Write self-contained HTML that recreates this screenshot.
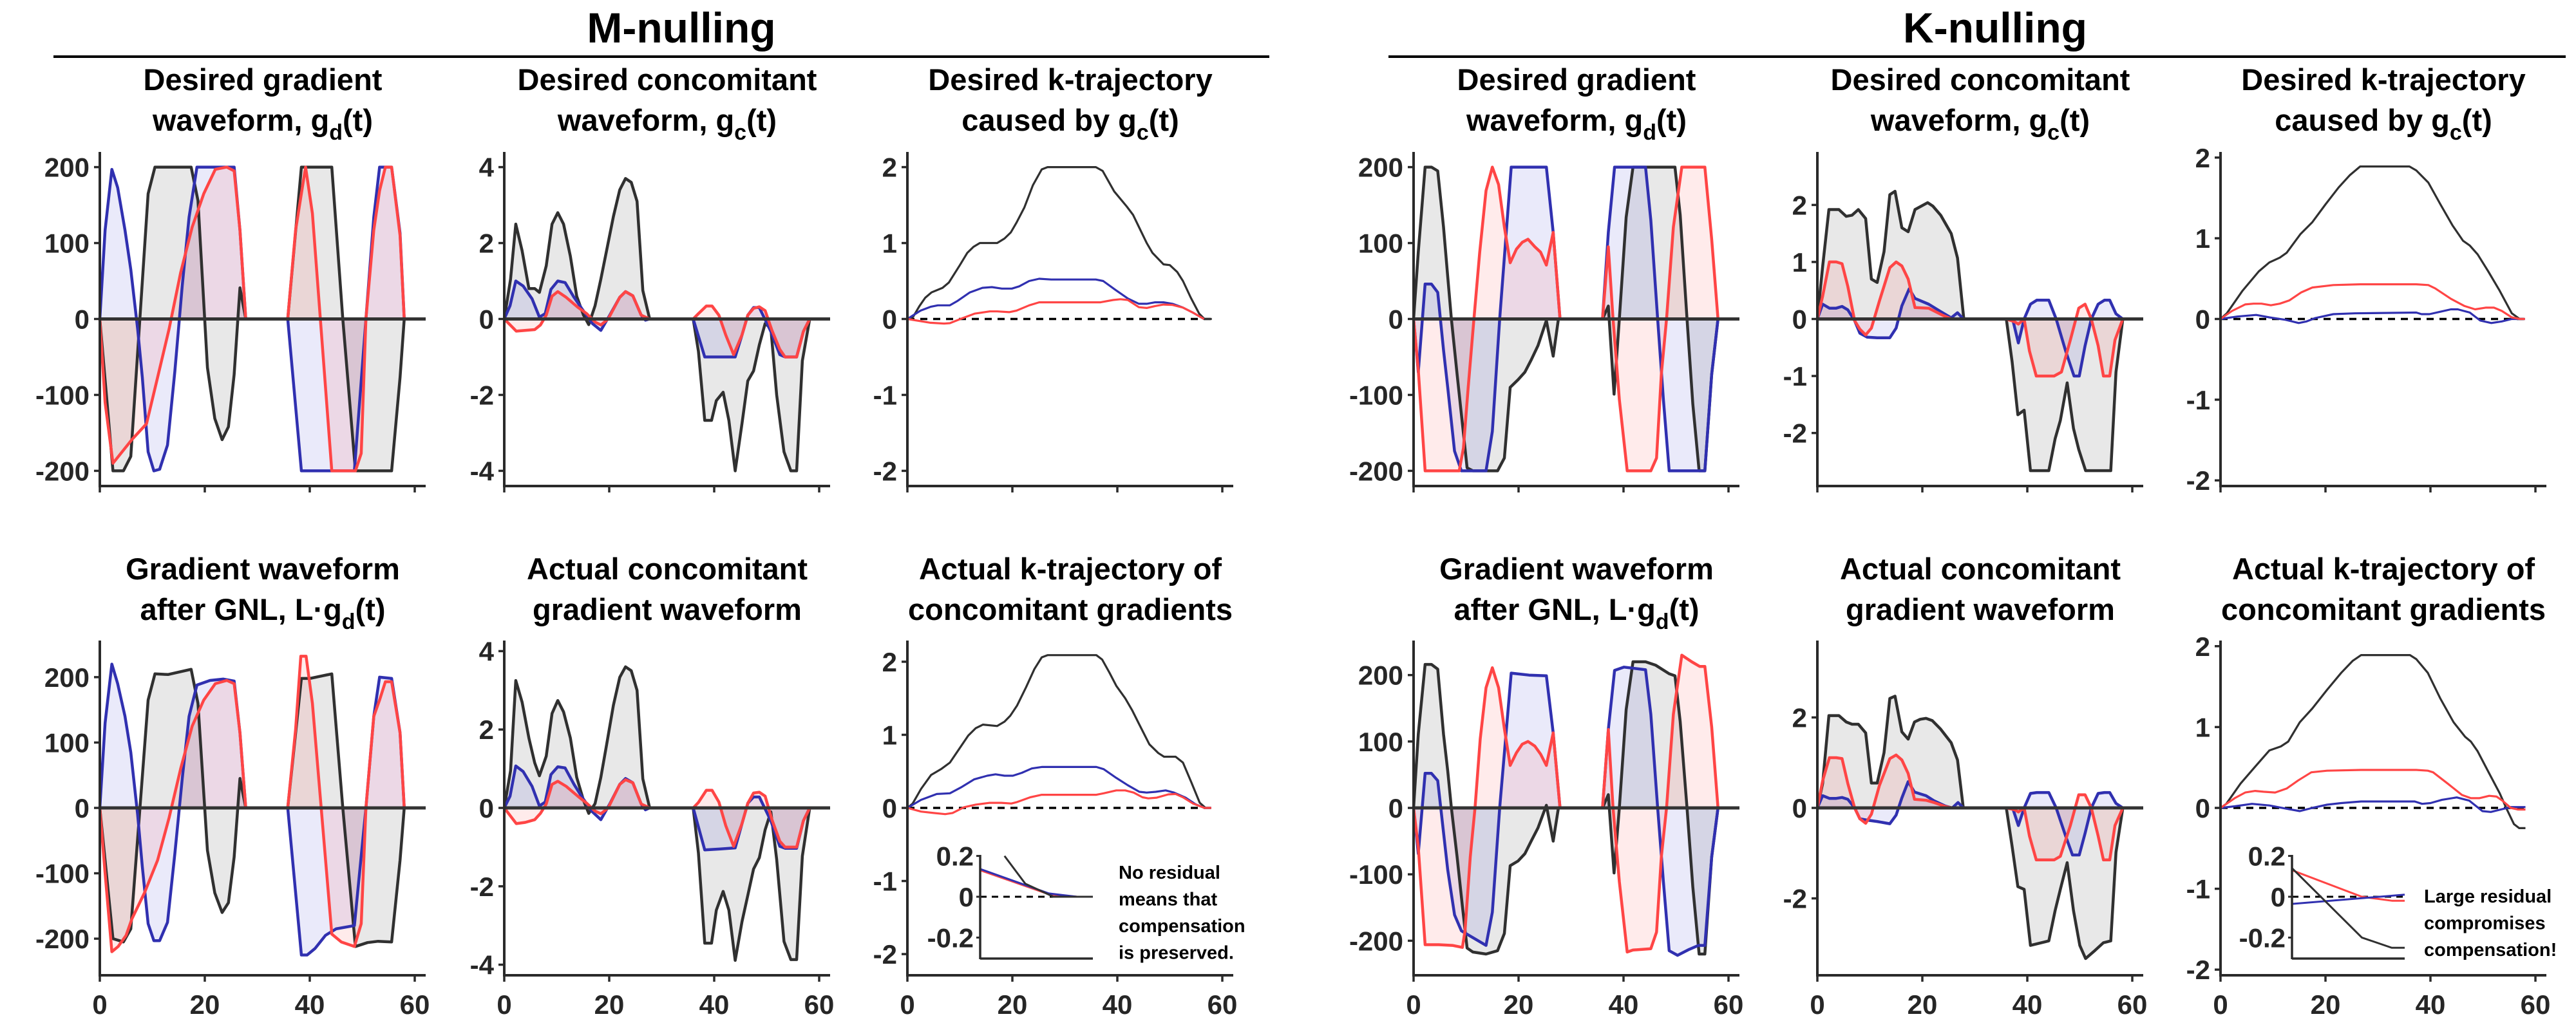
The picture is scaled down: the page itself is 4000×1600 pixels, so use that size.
<!DOCTYPE html>
<html><head><meta charset="utf-8">
<style>
html,body{margin:0;padding:0;background:#fff;}
svg{display:block;font-family:"Liberation Sans",Arial,sans-serif;}
.tl{font-weight:bold;font-size:42px;fill:#262626;}
.tt{font-weight:bold;font-size:47px;fill:#000;}
.big{font-weight:bold;font-size:66px;fill:#000;}
.note{font-weight:bold;font-size:29px;fill:#000;}
</style></head>
<body>
<svg id="fig" width="4000" height="1600" viewBox="0 0 4000 1600" xmlns="http://www.w3.org/2000/svg">
<text class="big" x="1058" y="66" text-anchor="middle">M-nulling</text>
<line x1="83" y1="88" x2="1971" y2="88" stroke="#000" stroke-width="4"/>
<text class="big" x="3098" y="66" text-anchor="middle">K-nulling</text>
<line x1="2156" y1="88" x2="3984" y2="88" stroke="#000" stroke-width="4"/>
</svg>
<script>
// ---------- data: [time (ms), value] ----------
const mGdBlack=[[0,0],[2.5,-200],[4.5,-200],[5.9,-181],[9.2,165],[10.5,200],[17.4,200],[18.7,156],[20.5,-64],[21.9,-131],[23.3,-159],[24.5,-142],[25.6,-73],[26.7,41],[27.8,0],[35.8,0],[38.4,200],[44.2,200],[46.3,0],[48.7,-200],[55.6,-200],[57.2,-77],[58,0]];
const mGdBlue=[[0,0],[1,117],[2.3,197],[3.4,173],[4.8,117],[5.9,65],[7.2,-13],[8.1,-77],[9.2,-175],[10.3,-200],[11.4,-198],[12.9,-166],[14.3,-69],[15.7,44],[17,134],[18.5,200],[25.6,200],[26.7,117],[27.8,0],[35.8,0],[38.4,-200],[48.5,-200],[50.7,0],[52.2,134],[53.3,200],[55.6,200],[57.2,113],[58,0]];
const mGdRed=[[0,0],[1,-110],[2.5,-190],[6.1,-159],[8.9,-138],[11,-77],[13.2,-13],[15.4,61],[17.6,121],[19.8,165],[22,197],[24.2,200],[25.6,195],[26.7,117],[27.8,0],[35.8,0],[37.3,117],[39.2,200],[40.5,139],[44.2,-200],[48.7,-200],[49.8,-177],[50.7,0],[52.2,117],[53.3,169],[54.4,200],[55.6,200],[57.2,110],[58,0]];

const mGcBlack=[[0,0],[1.2,1.05],[2.2,2.5],[3.4,1.8],[4.7,0.8],[5.8,0.8],[6.7,0.7],[8,1.4],[9.1,2.5],[10.2,2.8],[11.3,2.5],[12.6,1.65],[13.8,0.6],[15.1,0.1],[16.1,-0.15],[17.3,0.35],[18.4,1.05],[19.5,1.8],[20.8,2.7],[22,3.4],[23.1,3.7],[24.2,3.6],[25.3,3.1],[26.4,0.75],[27.7,0],[36,0],[37,-0.85],[38.2,-2.67],[39.5,-2.67],[40.4,-2.15],[41.7,-1.93],[42.8,-2.67],[44,-4],[45.3,-2.75],[46.4,-1.63],[47.5,-1.37],[48.6,-0.68],[49.7,-0.12],[50.8,-0.25],[51.9,-2],[53.3,-3.5],[54.6,-4],[55.7,-4],[56.8,-1.1],[58.2,0]];
const mGcBlue=[[0,0],[1.1,0.35],[2.2,1],[3.6,0.87],[5.3,0.53],[6.7,0.05],[7.8,0.14],[8.9,0.78],[10.2,1],[11.6,0.96],[13.3,0.57],[14.8,0.27],[16.8,-0.12],[18.4,-0.3],[20.1,0.1],[22,0.57],[23.1,0.72],[24.5,0.61],[26.1,0.1],[26.9,-0.03],[27.7,0],[36,0],[38.2,-1],[44,-1],[45.3,-0.42],[46.4,0.1],[47.5,0.3],[48.6,0.3],[50.8,-0.33],[52.5,-0.94],[53.5,-1],[55.7,-1],[57,-0.33],[58.2,0]];
const mGcRed=[[0,0],[2.3,-0.32],[5.8,-0.28],[6.9,-0.16],[8,0.1],[9.1,0.6],[10.2,0.72],[11.8,0.57],[14,0.31],[15.7,0.14],[17.3,-0.08],[18.4,-0.16],[19.8,0],[22,0.57],[23.1,0.72],[24.5,0.61],[26.1,0.1],[27.7,0],[36,0],[37,0.14],[38.5,0.34],[39.6,0.34],[40.9,0.1],[42.2,-0.42],[43.7,-0.94],[45.3,-0.42],[46.4,0.1],[47.5,0.28],[48.6,0.32],[49.7,0.22],[51,-0.3],[52.5,-0.8],[53.5,-1],[55.7,-1],[57,-0.33],[58.2,0]];

const mKBlack=[[0,0],[1.1,0.03],[2.3,0.17],[3.4,0.28],[4.6,0.35],[6.7,0.41],[7.9,0.48],[10,0.71],[11.4,0.87],[12.6,0.95],[13.8,1.0],[17.1,1.0],[18.5,1.06],[19.7,1.14],[20.8,1.27],[22.3,1.47],[23.9,1.76],[25.6,1.97],[26.7,2.0],[35.9,2.0],[37.2,1.95],[39.4,1.68],[41.8,1.48],[43,1.37],[44.4,1.17],[45.6,1.0],[46.7,0.87],[48.8,0.72],[50,0.71],[51.4,0.62],[52.5,0.5],[54,0.28],[55.6,0.07],[56.6,0],[58,0]];
const mKBlue=[[0,0],[2.5,0.11],[4.4,0.16],[5.8,0.18],[8.1,0.18],[9.6,0.24],[11.9,0.35],[14.3,0.41],[16.1,0.42],[18,0.4],[19.9,0.4],[21.3,0.43],[23.2,0.5],[25.1,0.53],[27.4,0.52],[35.9,0.52],[37.3,0.5],[39.7,0.38],[42,0.27],[44.1,0.2],[45.6,0.2],[47.2,0.22],[48.8,0.22],[50.5,0.2],[52.5,0.15],[54.5,0.08],[56.5,0]];
const mKRed=[[0,0],[4.4,-0.05],[7,-0.06],[8.1,-0.055],[10.5,0.01],[12.8,0.07],[15.7,0.1],[17.1,0.1],[19.4,0.09],[20.8,0.11],[23.2,0.18],[25.1,0.22],[27.4,0.22],[36.8,0.22],[39.2,0.25],[40.6,0.26],[42,0.25],[44.1,0.155],[45.6,0.145],[47.2,0.17],[48.8,0.19],[50.5,0.185],[52.5,0.15],[54.5,0.08],[56.5,0]];

const mLgdBlack=[[0,0],[2.5,-200],[4.5,-205],[5.9,-185],[9.2,165],[10.5,205],[13,204],[17.4,212],[18.7,160],[20.5,-65],[21.9,-130],[23.3,-160],[24.5,-145],[25.6,-75],[26.7,45],[27.8,0],[35.8,0],[38.4,198],[40,198],[44.2,205],[46.3,0],[48.7,-212],[51,-206],[53,-204],[55.6,-205],[57.2,-80],[58,0]];
const mLgdBlue=[[0,0],[1,130],[2.3,220],[3.4,190],[4.8,140],[5.9,85],[7.2,-10],[8.1,-90],[9.2,-177],[10.3,-203],[11.4,-203],[12.9,-175],[14.3,-70],[15.7,45],[17,140],[18.5,188],[21,195],[23.5,197],[25.6,194],[26.7,115],[27.8,0],[35.8,0],[38.4,-225],[39.5,-225],[41,-215],[43,-195],[45,-185],[48.5,-180],[50.7,0],[52.2,140],[53.3,200],[55.6,198],[57.2,115],[58,0]];
const mLgdRed=[[0,0],[1,-100],[2.3,-220],[3.5,-212],[5,-195],[6.1,-170],[8.5,-130],[11,-80],[13.2,-15],[15.4,60],[17.6,125],[19.8,165],[22,190],[24.2,195],[25.6,190],[26.7,115],[27.8,0],[35.8,0],[37.3,120],[38.3,232],[39.3,232],[40.5,160],[44.2,-193],[46,-205],[48.5,-212],[49.8,-177],[50.7,0],[52.2,140],[53.3,165],[54.4,193],[55.6,193],[57.2,115],[58,0]];

const mAcBlack=[[0,0],[1.2,0.95],[2.2,3.25],[3.4,2.7],[4.7,1.78],[5.8,1.15],[6.7,0.82],[8,1.32],[9.1,2.41],[10.2,2.74],[11.3,2.45],[12.6,1.78],[13.8,0.78],[15.1,0.19],[16.1,-0.14],[17.3,0.11],[18.4,0.78],[19.5,1.61],[20.8,2.62],[22,3.33],[23.1,3.6],[24.2,3.5],[25.3,3.0],[26.4,0.74],[27.7,0],[36,0],[37,-1.15],[38.2,-3.45],[39.5,-3.45],[40.4,-2.61],[41.7,-2.13],[42.8,-2.61],[44,-3.89],[45.3,-2.9],[46.4,-2.23],[47.5,-1.56],[48.6,-1.27],[49.7,-0.56],[50.8,-0.1],[51.9,-1.31],[53.3,-3.41],[54.6,-3.87],[55.7,-3.87],[56.8,-1.23],[58.2,0]];
const mAcBlue=[[0,0],[1.1,0.3],[2.2,1.07],[3.6,0.93],[5.3,0.55],[6.7,0.05],[7.8,0.15],[8.9,0.85],[10.2,1.05],[11.6,1.02],[13.3,0.6],[14.8,0.28],[16.8,-0.1],[18.4,-0.3],[20.1,0.1],[22,0.6],[23.1,0.75],[24.5,0.64],[26.1,0.1],[26.9,-0.05],[27.7,0],[36,0],[38.2,-1.07],[41,-1.05],[44,-1.02],[45.3,-0.4],[46.4,0.12],[47.5,0.28],[48.6,0.28],[50.8,-0.33],[52.5,-0.98],[53.5,-1.03],[55.7,-1.03],[57,-0.33],[58.2,0]];
const mAcRed=[[0,0],[2.3,-0.4],[4,-0.37],[5.8,-0.3],[6.9,-0.14],[8,0.1],[9.1,0.6],[10.2,0.68],[11.8,0.55],[14,0.3],[15.7,0.12],[17.3,-0.08],[18.4,-0.15],[19.8,0],[22,0.6],[23.1,0.72],[24.5,0.64],[26.1,0.1],[27.7,0],[36,0],[37,0.14],[38.5,0.45],[39.6,0.45],[40.9,0.15],[42.2,-0.45],[43.7,-0.98],[45.3,-0.4],[46.4,0.12],[47.5,0.38],[48.6,0.4],[49.7,0.3],[51,-0.3],[52.5,-0.85],[53.5,-1],[55.7,-1],[57,-0.33],[58.2,0]];

const mAkBlack=[[0,0],[1,0.06],[2.6,0.26],[4.5,0.45],[6.4,0.53],[8.1,0.62],[9.7,0.79],[11.6,0.99],[13,1.09],[14.4,1.14],[17.1,1.12],[18.5,1.18],[19.6,1.26],[20.9,1.4],[22.6,1.65],[24.2,1.9],[25.6,2.06],[26.7,2.09],[36,2.09],[37.1,2.03],[38.5,1.85],[39.8,1.67],[41.5,1.5],[42.8,1.34],[44.2,1.14],[46.1,0.87],[47.8,0.75],[48.9,0.7],[51.1,0.7],[52.5,0.62],[54.1,0.35],[55.7,0.07],[56.8,0],[57.9,0]];
const mAkBlue=[[0,0],[2.6,0.11],[5.6,0.19],[8.1,0.2],[10.2,0.28],[12.7,0.39],[15.2,0.44],[16.8,0.46],[18.5,0.44],[20.1,0.44],[21.8,0.48],[23.7,0.54],[25.6,0.56],[36,0.56],[37.4,0.53],[39.8,0.41],[42,0.31],[44.2,0.22],[45.6,0.21],[47.3,0.22],[49.2,0.24],[50.8,0.21],[53,0.14],[54.9,0.05],[56.6,0],[57.9,0]];
const mAkRed=[[0,0],[2.6,-0.05],[5,-0.07],[7.2,-0.085],[8.6,-0.07],[10.8,0.01],[13,0.045],[15.7,0.07],[17.9,0.07],[19.8,0.06],[20.9,0.08],[23.4,0.145],[25.6,0.18],[36,0.18],[37.4,0.2],[39.8,0.24],[41.5,0.24],[43.1,0.21],[44.8,0.145],[45.9,0.13],[47.5,0.14],[49.7,0.185],[51.1,0.19],[52.5,0.145],[54.4,0.06],[56.6,0],[57.9,0]];

const kGdBlack=[[0,0],[0.9,88],[2.2,200],[3.4,200],[4.6,195],[5.7,121],[6.5,56],[7.2,0],[8.3,-73],[9.3,-138],[10.2,-196],[11.3,-200],[16,-200],[17.3,-183],[18.4,-90],[19.9,-80],[21.2,-70],[22.4,-54],[23.7,-35],[25.3,-2],[26.6,-49],[27.6,0],[36,0],[37.1,17],[38.2,-99],[39.2,0],[40.5,134],[41.8,200],[49.8,200],[50.8,137],[52.1,0],[53.2,-112],[54.4,-200],[55.5,-200],[56.8,-73],[58,0]];
const kGdBlue=[[0,0],[0.9,-70],[2.2,46],[3.4,46],[4.6,35],[5.7,-41],[6.5,-90],[7.8,-174],[9.1,-200],[13.8,-200],[15,-148],[16.4,0],[18.6,200],[25.3,200],[26.6,114],[27.9,0],[36,0],[37.1,114],[38.3,200],[44.2,200],[45.2,130],[46.5,0],[47.6,-106],[48.7,-200],[55.5,-200],[56.8,-73],[58,0]];
const kGdRed=[[0,0],[0.9,-67],[2.2,-200],[8.7,-200],[9.5,-170],[10.4,-90],[11.5,0],[12.6,88],[13.8,169],[15,200],[16.2,177],[17.3,121],[18.4,74],[19.6,92],[20.7,101],[21.8,105],[23.1,95],[24.2,88],[25.3,71],[26.6,114],[27.9,0],[36,0],[37.1,95],[38,0],[39.2,-106],[40.7,-200],[45.2,-200],[46.3,-183],[47.2,-73],[48.2,0],[49.5,121],[51.1,200],[55.5,200],[56.8,105],[58,0]];

const kGcBlack=[[0,0],[1,0.92],[2.2,1.92],[4.1,1.92],[5.5,1.8],[6.6,1.82],[7.8,1.92],[9.2,1.76],[10.3,0.7],[11.4,0.64],[12.7,1.18],[13.8,2.18],[14.8,2.24],[16.1,1.6],[17.3,1.53],[18.6,1.92],[21,2.04],[22,1.98],[23.5,1.82],[25.5,1.5],[26.7,1.07],[27.9,0],[36,0],[37.1,-0.75],[38.2,-1.68],[39.4,-1.6],[40.6,-2.66],[44.1,-2.66],[45.3,-2.1],[46.3,-1.78],[47.6,-1.12],[48.8,-1.92],[49.8,-2.29],[51.1,-2.66],[55.9,-2.66],[56.9,-0.93],[58.2,0]];
const kGcBlue=[[0,0],[1,0.26],[2.3,0.19],[3.6,0.19],[4.7,0.22],[5.8,0.16],[7.1,-0.03],[8.1,-0.25],[9.5,-0.32],[11.4,-0.33],[13.8,-0.33],[15,-0.16],[16.1,0.23],[17.5,0.53],[18.6,0.36],[21.2,0.26],[23.5,0.13],[25.5,0.02],[26.7,0.11],[27.8,0],[36,0],[37.2,0],[38.3,-0.42],[39.4,0],[40.6,0.26],[41.8,0.33],[44.1,0.33],[45.5,0],[47.3,-0.56],[48.9,-1],[49.9,-1],[51,-0.47],[52.2,0],[53.5,0.26],[54.7,0.33],[55.7,0.33],[56.9,0.09],[58.2,0]];
const kGcRed=[[0,0],[1,0.4],[2.3,1.0],[3.6,1.0],[4.7,0.97],[5.8,0.57],[7.1,-0.03],[8.1,-0.18],[9.2,-0.28],[10.3,-0.16],[11.8,0.31],[13.8,0.9],[15,1.0],[16.1,0.93],[17.3,0.7],[18.6,0.2],[21.2,0.19],[24,0.06],[25.5,0],[27.8,0],[36,0],[37.6,-0.05],[38.3,-0.09],[39.4,0],[40.4,-0.56],[41.7,-1],[45.1,-1],[46.5,-0.93],[48.2,-0.37],[49.8,0.19],[51,0.26],[52.2,0],[53.5,-0.47],[54.5,-1],[55.7,-1],[56.7,-0.37],[58.2,0]];

const kKBlack=[[0,0],[1.2,0.07],[4.2,0.35],[7.3,0.59],[9.3,0.7],[11.3,0.76],[12.6,0.82],[15.2,1.05],[17.5,1.2],[20,1.42],[22.5,1.63],[24.6,1.78],[26.6,1.89],[36,1.89],[37.3,1.84],[39.6,1.69],[41.9,1.42],[44.2,1.16],[46.2,0.97],[47.5,0.91],[49,0.8],[51,0.59],[53.1,0.36],[55.5,0.07],[57,0],[58,0]];
const kKBlue=[[0,0],[3.2,0.03],[6.8,0.05],[9.3,0.02],[12.4,-0.01],[14.9,-0.05],[16.4,-0.03],[18,0.01],[21.5,0.06],[25.6,0.07],[37.3,0.08],[38.3,0.06],[39.8,0.06],[41.9,0.09],[43.9,0.12],[45.2,0.12],[47.5,0.08],[49.5,-0.02],[51.6,-0.05],[53.6,-0.03],[55.5,0],[58,0]];
const kKRed=[[0,0],[2.2,0.1],[4.7,0.18],[6.3,0.19],[7.8,0.19],[9.6,0.17],[11.3,0.19],[13.1,0.23],[15.4,0.33],[17.5,0.39],[21.5,0.42],[26.6,0.43],[37.3,0.43],[39.6,0.42],[40.9,0.38],[43.9,0.25],[46.5,0.16],[48.5,0.12],[50.5,0.14],[52.1,0.14],[53.6,0.1],[55.5,0.02],[57,0],[58,0]];

const kLgdBlack=[[0,0],[0.9,111],[2.2,216],[3.4,216],[4.6,209],[5.7,111],[6.5,56],[7.2,0],[8.3,-74],[9.3,-148],[10.2,-211],[11.3,-217],[13.8,-220],[16,-215],[17.3,-189],[18.4,-87],[19.9,-80],[21.2,-69],[22.4,-50],[23.7,-30],[25.3,4],[26.6,-50],[27.6,0],[36,0],[37.1,20],[38.2,-98],[39.2,0],[40.5,148],[41.8,220],[44.2,220],[46.1,215],[48.7,202],[49.8,199],[50.8,130],[52.1,0],[53.2,-119],[54.4,-220],[55.5,-220],[56.8,-74],[58,0]];
const kLgdBlue=[[0,0],[0.9,-69],[2.2,52],[3.4,52],[4.6,41],[5.7,-37],[6.5,-93],[7.8,-161],[9.1,-185],[13.8,-207],[15,-157],[16.4,0],[18.6,203],[22,200],[25.3,199],[26.6,113],[27.9,0],[36,0],[37.1,118],[38.3,207],[40.1,212],[44.2,208],[45.2,141],[46.5,0],[47.6,-111],[48.7,-215],[50.3,-222],[52.5,-213],[54.3,-207],[55.5,-207],[56.8,-74],[58,0]];
const kLgdRed=[[0,0],[0.9,-59],[2.2,-206],[4.8,-206],[7.4,-207],[9.3,-210],[9.8,-185],[10.8,-74],[11.7,0],[12.7,104],[13.8,181],[15,211],[16.2,181],[17.3,119],[18.4,64],[19.6,83],[20.7,96],[21.8,100],[23.1,93],[24.2,81],[25.3,64],[26.6,113],[27.9,0],[36,0],[37.1,118],[38,0],[39.2,-111],[40.7,-217],[41.8,-214],[45.2,-212],[46.3,-187],[47.2,-74],[48.2,0],[49.5,141],[51.1,230],[53,220],[54.5,213],[55.5,213],[56.8,122],[58,0]];

const kAcBlack=[[0,0],[1,0.54],[2.2,2.04],[4.1,2.04],[5.5,1.9],[6.6,1.85],[7.8,1.85],[9.2,1.66],[10.3,0.55],[11.4,0.55],[12.7,1.22],[13.8,2.42],[14.8,2.47],[16.1,1.68],[17.3,1.52],[18.5,1.9],[19.6,1.96],[20.7,1.98],[21.9,1.93],[23.5,1.74],[25.5,1.44],[26.7,1.06],[27.8,0],[36,0],[37.1,-0.85],[38.2,-1.74],[39.4,-1.8],[40.6,-3.04],[44.1,-2.94],[45.3,-2.27],[46.3,-1.8],[47.6,-1.21],[48.8,-2.27],[50,-3.04],[51.1,-3.33],[52.9,-3.15],[54.5,-2.98],[55.9,-2.94],[56.9,-0.98],[58.2,0]];
const kAcBlue=[[0,0],[1,0.27],[2.3,0.21],[3.6,0.21],[4.7,0.23],[5.8,0.19],[7.1,0],[8.1,-0.24],[9.5,-0.27],[11.4,-0.3],[13.8,-0.35],[15,-0.16],[16.1,0.22],[17.3,0.58],[18.5,0.35],[20.7,0.27],[22.2,0.16],[24.4,0.04],[25.7,0],[26.8,0.12],[27.8,0],[36,0],[37.2,0],[38.3,-0.39],[39.4,0],[40.6,0.32],[41.8,0.34],[44.1,0.34],[45.5,0],[47.3,-0.62],[48.6,-1.04],[49.9,-1.04],[51,-0.56],[52.2,0],[53.5,0.32],[54.7,0.34],[55.7,0.34],[56.9,0.1],[58.2,0]];
const kAcRed=[[0,0],[1,0.6],[2.3,1.11],[3.6,1.11],[4.7,1.09],[5.8,0.54],[7.1,0],[8.1,-0.24],[9.2,-0.34],[10.3,-0.14],[11.8,0.49],[13.8,1.09],[15,1.17],[16.1,1.06],[17.3,0.76],[18.5,0.19],[20.7,0.17],[22.2,0.12],[24.4,0.03],[25.7,0],[27.8,0],[36,0],[37.6,-0.04],[38.3,-0.09],[39.4,0],[40.4,-0.62],[41.7,-1.15],[45.1,-1.15],[46.3,-1.07],[48.2,-0.39],[49.8,0.29],[51,0.29],[52.2,0],[53.5,-0.62],[54.5,-1.15],[55.7,-1.15],[56.7,-0.39],[58.2,0]];

const kAkBlack=[[0,0],[1.1,0.05],[3.8,0.3],[6.6,0.51],[9.3,0.71],[11.5,0.76],[12.9,0.82],[15.1,1.06],[17.5,1.23],[20.3,1.46],[23,1.67],[25.2,1.82],[26.8,1.89],[36.1,1.89],[37.3,1.84],[39.5,1.67],[41.9,1.35],[44.4,1.06],[46.6,0.88],[47.7,0.82],[49,0.7],[51,0.45],[53.2,0.18],[54.5,-0.01],[55.9,-0.2],[56.9,-0.25],[58.1,-0.25]];
const kAkBlue=[[0,0],[2.7,0.02],[6,0.05],[9.3,0.03],[12.6,-0.01],[15.1,-0.04],[17.5,0],[20.3,0.04],[23,0.06],[26.8,0.08],[37,0.08],[38.4,0.05],[40,0.06],[42.2,0.1],[45,0.13],[47.4,0.09],[49.9,-0.04],[51.5,-0.05],[53.4,-0.02],[55.3,0.01],[58.1,0.01]];
const kAkRed=[[0,0],[2.7,0.12],[4.7,0.19],[6.6,0.21],[8.2,0.2],[10.4,0.19],[12.6,0.24],[14.8,0.34],[17.3,0.44],[20.3,0.46],[26.8,0.47],[37.3,0.47],[39.5,0.46],[40.5,0.44],[43.3,0.3],[46,0.16],[47.7,0.12],[49.3,0.12],[51.2,0.15],[52.6,0.14],[53.7,0.09],[55.3,0],[56.7,-0.02],[58.1,-0.02]];

// inset residual data: [fraction of inset width, value]
const mInsetBlack=[[0.216,0.2],[0.4,0.064],[0.65,0],[1,0]];
const mInsetBlue=[[0,0.136],[0.61,0.016],[0.86,0],[1,0]];
const mInsetRed=[[0,0.13],[0.61,0.012],[0.86,0],[1,0]];
const kInsetBlack=[[0,0.14],[0.62,-0.2],[0.885,-0.25],[1,-0.25]];
const kInsetBlue=[[0,-0.035],[1,0.01]];
const kInsetRed=[[0,0.13],[0.62,0.0],[0.89,-0.02],[1,-0.02]];

const xTicks=[0,20,40,60];
const gradTicks=[-200,-100,0,100,200];
const conc4Ticks=[-4,-2,0,2,4];
const k2Ticks=[-2,-1,0,1,2];
const kc2Ticks=[-2,0,2];
const insetTicks=[-0.2,0,0.2];

// ---------- drawing ----------
const NS="http://www.w3.org/2000/svg";
const svg=document.getElementById('fig');
const PXT=489/60;
const COL={k:'#303030',b:'#3030b0',r:'#ff4545'};
const FILL={k:'rgba(120,120,120,0.17)',b:'rgba(60,60,210,0.11)',r:'rgba(255,70,70,0.11)'};
function mk(tag,attrs,parent){const e=document.createElementNS(NS,tag);for(const k in attrs)e.setAttribute(k,attrs[k]);(parent||svg).appendChild(e);return e;}
function X(p,t){return p.ax+t*PXT;}
function Y(p,v){return p.top+(p.ymax-v)/(p.ymax-p.ymin)*(p.bot-p.top);}

function title(p,l1,l2,sub){
  const cx=p.ax+253;
  const t1=mk('text',{class:'tt',x:cx,y:p.t1,'text-anchor':'middle'});
  
  
  t1.textContent=l1;
  const t2=mk('text',{class:'tt',x:cx,y:p.t1+63,'text-anchor':'middle'});
  
  
  if(sub){
    const a=mk('tspan',{},t2);a.textContent=l2;
    const b=mk('tspan',{dy:14,'font-size':34},b0=t2);b.textContent=sub;
    const c=mk('tspan',{dy:-14},t2);c.textContent='(t)';
  } else t2.textContent=l2;
}

function panel(p){
  const g=mk('g',{});
  
  
  const names={k:'black',b:'blue',r:'red'};
  if(p.kind==='grad'){
    for(const s of p.series){
      let d='M'+X(p,s.data[0][0])+','+Y(p,0);
      for(const q of s.data)d+=' L'+X(p,q[0]).toFixed(1)+','+Y(p,q[1]).toFixed(1);
      d+=' L'+X(p,s.data[s.data.length-1][0])+','+Y(p,0)+' Z';
      const f=mk('path',{d:d,fill:FILL[s.c],stroke:'none'},g);
      
      
    }
  } else {
    const z=mk('line',{x1:X(p,0),x2:X(p,58),y1:Y(p,0),y2:Y(p,0),stroke:'#000','stroke-width':3.5,'stroke-dasharray':'11 9'},g);
    
    
  }
  for(const s of p.series){
    const pts=s.data.map(q=>X(p,q[0]).toFixed(1)+','+Y(p,q[1]).toFixed(1)).join(' ');
    const l=mk('polyline',{points:pts,fill:'none',stroke:COL[s.c],'stroke-width':p.kind==='grad'?4.5:3.2,'stroke-linejoin':'round'},g);
    
    
  }
  if(p.kind==='grad'){
    const z=mk('line',{x1:X(p,0),x2:p.ax+506,y1:Y(p,0),y2:Y(p,0),stroke:'#333','stroke-width':5},g);
    
    
  }
  const ya=mk('line',{x1:p.ax,x2:p.ax,y1:p.top,y2:p.bot+2,stroke:'#2a2a2a','stroke-width':4},g);
  
  
  const xa=mk('line',{x1:p.ax-2,x2:p.ax+506,y1:p.bot,y2:p.bot,stroke:'#2a2a2a','stroke-width':4},g);
  
  
  for(const v of p.ticks){
    const y=Y(p,v);
    const tk=mk('line',{x1:p.ax-9,x2:p.ax,y1:y,y2:y,stroke:'#2a2a2a','stroke-width':3.5},g);
    
    
    const tl=mk('text',{class:'tl',x:p.ax-16,y:y+15,'text-anchor':'end'},g);
    
    
    tl.textContent=String(v);
  }
  for(const t of xTicks){
    const x=X(p,t);
    const tk=mk('line',{x1:x,x2:x,y1:p.bot,y2:p.bot+10,stroke:'#2a2a2a','stroke-width':3.5},g);
    
    
    if(p.xlab){
      const tl=mk('text',{class:'tl',x:x,y:p.bot+60,'text-anchor':'middle'},g);
      
      
      tl.textContent=String(t);
    }
  }
}

function inset(ix,series,lines,tx,ty){
  const q={ax:ix,w:175,top:1330,bot:1489,ymax:0.2,ymin:-0.3};
  const IY=v=>1393-v*317;
  const IX=f=>ix+f*175;
  const g=mk('g',{});
  
  
  const z=mk('line',{x1:ix,x2:ix+175,y1:IY(0),y2:IY(0),stroke:'#000','stroke-width':3,'stroke-dasharray':'10 8'},g);
  
  
  const names={k:'black',b:'blue',r:'red'};
  for(const s of series){
    const l=mk('polyline',{points:s.data.map(p=>IX(p[0]).toFixed(1)+','+IY(p[1]).toFixed(1)).join(' '),fill:'none',stroke:COL[s.c],'stroke-width':3},g);
    
    
  }
  const ya=mk('line',{x1:ix,x2:ix,y1:1328,y2:1490,stroke:'#2a2a2a','stroke-width':3.5},g);
  
  
  const xa=mk('line',{x1:ix,x2:ix+175,y1:1489,y2:1489,stroke:'#2a2a2a','stroke-width':3.5},g);
  
  
  for(const v of insetTicks){
    const tk=mk('line',{x1:ix-6,x2:ix,y1:IY(v),y2:IY(v),stroke:'#2a2a2a','stroke-width':3},g);
    
    
    const tl=mk('text',{class:'tl',x:ix-10,y:IY(v)+15,'text-anchor':'end'},g);
    
    
    tl.textContent=String(v);
  }
  lines.forEach((s,i)=>{
    const t=mk('text',{class:'note',x:tx,y:ty+i*41.5},g);
    
    
    t.textContent=s;
  });
}

const TOP={top:236,bot:755,t1:140,xlab:false};
const BOT={top:995,bot:1515,t1:900,xlab:true};
const panels=[
 Object.assign({name:'m-desired-gradient',ax:155,kind:'grad',ymin:-220,ymax:220,ticks:gradTicks,series:[{c:'k',data:mGdBlack},{c:'b',data:mGdBlue},{c:'r',data:mGdRed}],tt:['Desired gradient','waveform, g','d']},TOP),
 Object.assign({name:'m-desired-concomitant',ax:783,kind:'grad',ymin:-4.4,ymax:4.4,ticks:conc4Ticks,series:[{c:'k',data:mGcBlack},{c:'b',data:mGcBlue},{c:'r',data:mGcRed}],tt:['Desired concomitant','waveform, g','c']},TOP),
 Object.assign({name:'m-desired-k-trajectory',ax:1409,kind:'k',ymin:-2.2,ymax:2.2,ticks:k2Ticks,series:[{c:'k',data:mKBlack},{c:'b',data:mKBlue},{c:'r',data:mKRed}],tt:['Desired k-trajectory','caused by g','c']},TOP),
 Object.assign({name:'k-desired-gradient',ax:2195,kind:'grad',ymin:-220,ymax:220,ticks:gradTicks,series:[{c:'k',data:kGdBlack},{c:'b',data:kGdBlue},{c:'r',data:kGdRed}],tt:['Desired gradient','waveform, g','d']},TOP),
 Object.assign({name:'k-desired-concomitant',ax:2822,kind:'grad',ymin:-2.93,ymax:2.93,ticks:k2Ticks,series:[{c:'k',data:kGcBlack},{c:'b',data:kGcBlue},{c:'r',data:kGcRed}],tt:['Desired concomitant','waveform, g','c']},TOP),
 Object.assign({name:'k-desired-k-trajectory',ax:3448,kind:'k',ymin:-2.07,ymax:2.07,ticks:k2Ticks,series:[{c:'k',data:kKBlack},{c:'b',data:kKBlue},{c:'r',data:kKRed}],tt:['Desired k-trajectory','caused by g','c']},TOP),
 Object.assign({name:'m-gnl-gradient',ax:155,kind:'grad',ymin:-256,ymax:256,ticks:gradTicks,series:[{c:'k',data:mLgdBlack},{c:'b',data:mLgdBlue},{c:'r',data:mLgdRed}],tt:['Gradient waveform','after GNL, L\u00b7g','d']},BOT),
 Object.assign({name:'m-actual-concomitant',ax:783,kind:'grad',ymin:-4.27,ymax:4.27,ticks:conc4Ticks,series:[{c:'k',data:mAcBlack},{c:'b',data:mAcBlue},{c:'r',data:mAcRed}],tt:['Actual concomitant','gradient waveform',null]},BOT),
 Object.assign({name:'m-actual-k-trajectory',ax:1409,kind:'k',ymin:-2.29,ymax:2.29,ticks:k2Ticks,series:[{c:'k',data:mAkBlack},{c:'b',data:mAkBlue},{c:'r',data:mAkRed}],tt:['Actual k-trajectory of','concomitant gradients',null]},BOT),
 Object.assign({name:'k-gnl-gradient',ax:2195,kind:'grad',ymin:-252,ymax:252,ticks:gradTicks,series:[{c:'k',data:kLgdBlack},{c:'b',data:kLgdBlue},{c:'r',data:kLgdRed}],tt:['Gradient waveform','after GNL, L\u00b7g','d']},BOT),
 Object.assign({name:'k-actual-concomitant',ax:2822,kind:'grad',ymin:-3.7,ymax:3.7,ticks:kc2Ticks,series:[{c:'k',data:kAcBlack},{c:'b',data:kAcBlue},{c:'r',data:kAcRed}],tt:['Actual concomitant','gradient waveform',null]},BOT),
 Object.assign({name:'k-actual-k-trajectory',ax:3448,kind:'k',ymin:-2.07,ymax:2.07,ticks:k2Ticks,series:[{c:'k',data:kAkBlack},{c:'b',data:kAkBlue},{c:'r',data:kAkRed}],tt:['Actual k-trajectory of','concomitant gradients',null]},BOT)
];
for(const p of panels){panel(p);title(p,p.tt[0],p.tt[1],p.tt[2]);}
inset(1522,[{c:'r',data:mInsetRed},{c:'b',data:mInsetBlue},{c:'k',data:mInsetBlack}],['No residual','means that','compensation','is preserved.'],1737,1365);
inset(3559,[{c:'r',data:kInsetRed},{c:'b',data:kInsetBlue},{c:'k',data:kInsetBlack}],['Large residual','compromises','compensation!'],3764,1402);
</script>
</body></html>
